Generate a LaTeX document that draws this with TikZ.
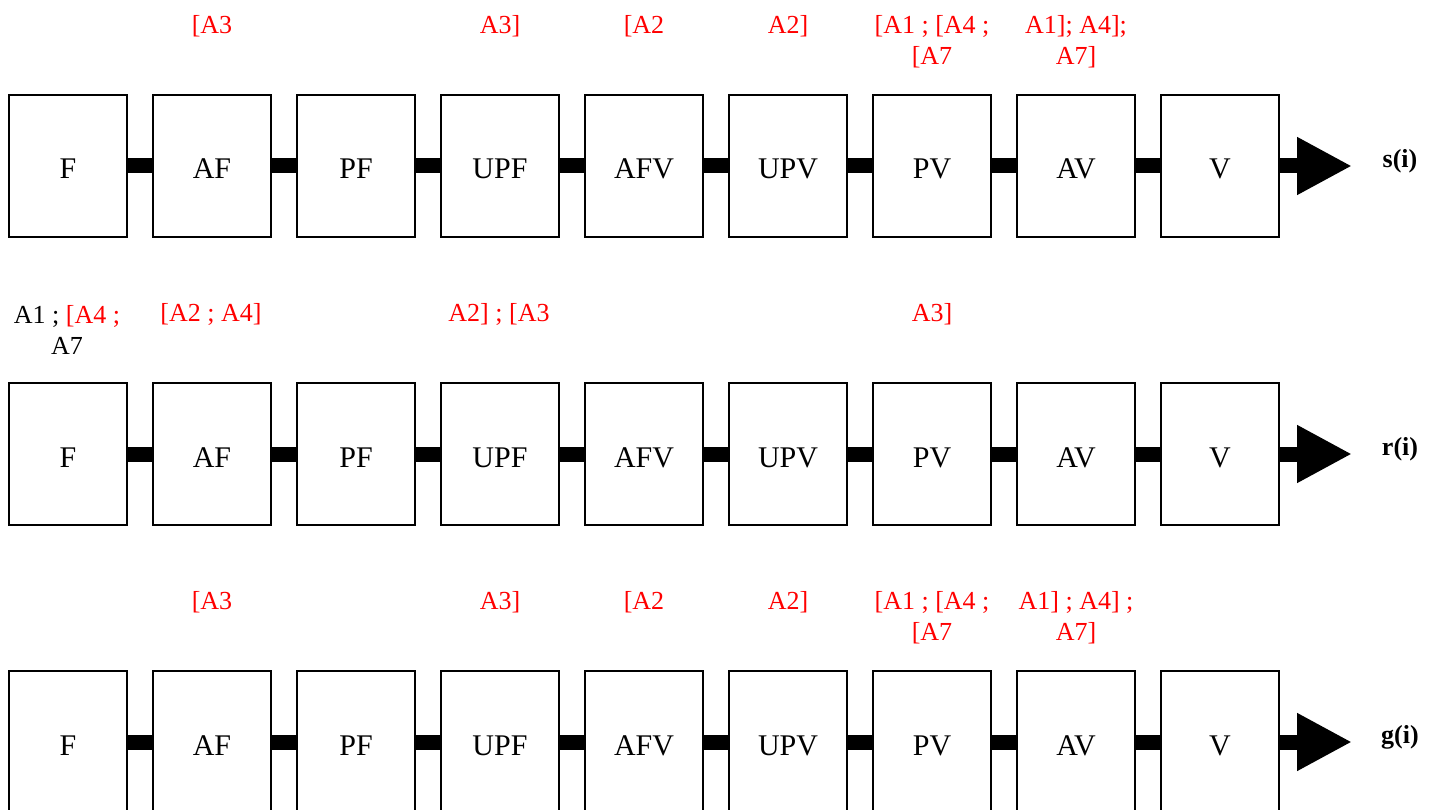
\documentclass[tikz,border=0pt]{standalone}
\usepackage{fontspec}
\setmainfont{Liberation Serif}
\usetikzlibrary{arrows.meta}

\begin{document}
\begin{tikzpicture}[x=1pt,y=-1pt,
	stage/.style={draw,line width=2pt,minimum width=118pt,minimum height=142pt,inner sep=0pt,text height=26pt,text depth=0pt,font=\fontsize{30}{34}\selectfont},
	link/.style={line width=15pt},
	outlink/.style={line width=15pt,-{Triangle[length=55pt,width=54pt]}},
	note/.style={text=red,align=center,inner sep=0pt,font=\fontsize{26}{31}\selectfont},
	outlabel/.style={inner sep=0pt,font=\fontsize{26}{30}\selectfont\bfseries}]
		
		\useasboundingbox (0,0) rectangle (1434,810);
		
		% s(i)
		\node[stage] (sF) at (68,166) {F};
		\node[stage] (sAF) at (212,166) {AF};
		\node[stage] (sPF) at (356,166) {PF};
		\node[stage] (sUPF) at (500,166) {UPF};
		\node[stage] (sAFV) at (644,166) {AFV};
		\node[stage] (sUPV) at (788,166) {UPV};
		\node[stage] (sPV) at (932,166) {PV};
		\node[stage] (sAV) at (1076,166) {AV};
		\node[stage] (sV) at (1220,166) {V};
		\coordinate (send) at (1352,166);
		\node[outlabel] (sout) at (1400,161) {s(i)};
		
		\node[note] (sn1) at (212,26) {[A3};
		\node[note] (sn2) at (500,26) {A3]};
		\node[note] (sn3) at (644,26) {[A2};
		\node[note] (sn4) at (788,26) {A2]};
		\node[note] (sn5) at (932,42) {[A1 ; [A4 ;\\\relax[A7};
		\node[note] (sn6) at (1076,42) {A1]; A4];\\A7]};
		
		\draw[link] (sF) -- (sAF);
		\draw[link] (sAF) -- (sPF);
		\draw[link] (sPF) -- (sUPF);
		\draw[link] (sUPF) -- (sAFV);
		\draw[link] (sAFV) -- (sUPV);
		\draw[link] (sUPV) -- (sPV);
		\draw[link] (sPV) -- (sAV);
		\draw[link] (sAV) -- (sV);
		\draw[outlink] (sV) -- (send);
		
		% r(i)
		\node[stage] (rF) at (68,454) {F};
		\node[stage] (rAF) at (212,454) {AF};
		\node[stage] (rPF) at (356,454) {PF};
		\node[stage] (rUPF) at (500,454) {UPF};
		\node[stage] (rAFV) at (644,454) {AFV};
		\node[stage] (rUPV) at (788,454) {UPV};
		\node[stage] (rPV) at (932,454) {PV};
		\node[stage] (rAV) at (1076,454) {AV};
		\node[stage] (rV) at (1220,454) {V};
		\coordinate (rend) at (1352,454);
		\node[outlabel] (rout) at (1400,449) {r(i)};
		
		\node[note,text=black] (rn1) at (67,330) {A1 ; {\color{red}[A4 ;}\\A7};
		\node[note] (rn2) at (211,314) {[A2 ; A4]};
		\node[note] (rn3) at (499,314) {A2] ; [A3};
		\node[note] (rn4) at (932,314) {A3]};
		
		\draw[link] (rF) -- (rAF);
		\draw[link] (rAF) -- (rPF);
		\draw[link] (rPF) -- (rUPF);
		\draw[link] (rUPF) -- (rAFV);
		\draw[link] (rAFV) -- (rUPV);
		\draw[link] (rUPV) -- (rPV);
		\draw[link] (rPV) -- (rAV);
		\draw[link] (rAV) -- (rV);
		\draw[outlink] (rV) -- (rend);
		
		% g(i)
		\node[stage] (gF) at (68,742) {F};
		\node[stage] (gAF) at (212,742) {AF};
		\node[stage] (gPF) at (356,742) {PF};
		\node[stage] (gUPF) at (500,742) {UPF};
		\node[stage] (gAFV) at (644,742) {AFV};
		\node[stage] (gUPV) at (788,742) {UPV};
		\node[stage] (gPV) at (932,742) {PV};
		\node[stage] (gAV) at (1076,742) {AV};
		\node[stage] (gV) at (1220,742) {V};
		\coordinate (gend) at (1352,742);
		\node[outlabel] (gout) at (1400,737) {g(i)};
		
		\node[note] (gn1) at (212,602) {[A3};
		\node[note] (gn2) at (500,602) {A3]};
		\node[note] (gn3) at (644,602) {[A2};
		\node[note] (gn4) at (788,602) {A2]};
		\node[note] (gn5) at (932,618) {[A1 ; [A4 ;\\\relax[A7};
		\node[note] (gn6) at (1076,618) {A1] ; A4] ;\\A7]};
		
		\draw[link] (gF) -- (gAF);
		\draw[link] (gAF) -- (gPF);
		\draw[link] (gPF) -- (gUPF);
		\draw[link] (gUPF) -- (gAFV);
		\draw[link] (gAFV) -- (gUPV);
		\draw[link] (gUPV) -- (gPV);
		\draw[link] (gPV) -- (gAV);
		\draw[link] (gAV) -- (gV);
		\draw[outlink] (gV) -- (gend);
		\end{tikzpicture}
\end{document}
